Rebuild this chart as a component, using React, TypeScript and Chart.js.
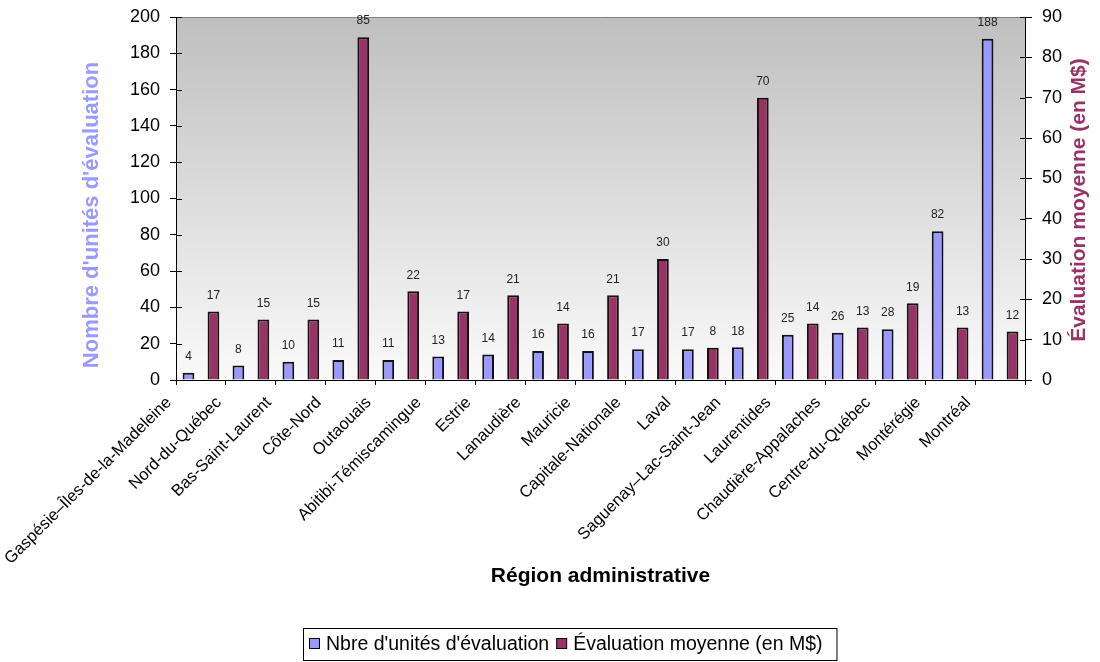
import { useEffect, useRef } from 'react';
import { Chart, registerables } from 'chart.js';

Chart.register(...registerables);

const REGIONS = [
  'Gaspésie–Îles-de-la-Madeleine',
  'Nord-du-Québec',
  'Bas-Saint-Laurent',
  'Côte-Nord',
  'Outaouais',
  'Abitibi-Témiscamingue',
  'Estrie',
  'Lanaudière',
  'Mauricie',
  'Capitale-Nationale',
  'Laval',
  'Saguenay–Lac-Saint-Jean',
  'Laurentides',
  'Chaudière-Appalaches',
  'Centre-du-Québec',
  'Montérégie',
  'Montréal',
];

const UNIT_COUNTS = [4, 8, 10, 11, 11, 13, 14, 16, 16, 17, 17, 18, 25, 26, 28, 82, 188];
const AVG_VALUES = [17, 15, 15, 85, 22, 17, 21, 14, 21, 30, 8, 70, 14, 13, 19, 13, 12];

const SERIES_LABELS = ["Nbre d'unités d'évaluation", 'Évaluation moyenne (en M$)'];
const X_TITLE = 'Région administrative';
const Y_LEFT_TITLE = "Nombre d'unités d'évaluation";
const Y_RIGHT_TITLE = 'Évaluation moyenne (en M$)';

const LEFT_MAX = 200;
const LEFT_STEP = 20;
const RIGHT_MAX = 90;
const RIGHT_STEP = 10;

const BLUE = '#9999FF';
const MAROON = '#993366';
const FONT = '"Liberation Sans", Arial, sans-serif';

const decorPlugin = {
  id: 'decor',
  beforeDraw(chart: any) {
    const { ctx, chartArea: a } = chart;
    ctx.save();
    ctx.fillStyle = '#ffffff';
    ctx.fillRect(0, 0, chart.width, chart.height);
    const g = ctx.createLinearGradient(0, a.top, 0, a.bottom);
    g.addColorStop(0, '#BFBFBF');
    g.addColorStop(1, '#FAFAFA');
    ctx.fillStyle = g;
    ctx.fillRect(a.left, a.top, a.right - a.left, a.bottom - a.top);
    ctx.strokeStyle = '#808080';
    ctx.lineWidth = 1;
    ctx.beginPath();
    ctx.moveTo(a.left, Math.round(a.top) + 0.5);
    ctx.lineTo(a.right, Math.round(a.top) + 0.5);
    ctx.stroke();
    ctx.restore();
  },
  afterDatasetsDraw(chart: any) {
    const { ctx } = chart;
    ctx.save();
    ctx.font = `12px ${FONT}`;
    ctx.fillStyle = '#222';
    ctx.textAlign = 'center';
    ctx.textBaseline = 'middle';
    chart.data.datasets.forEach((ds: any, di: number) => {
      const meta = chart.getDatasetMeta(di);
      meta.data.forEach((el: any, i: number) => {
        ctx.fillText(String(ds.data[i]), el.x, el.y - 16);
      });
    });
    ctx.restore();
  },
  afterDraw(chart: any) {
    const { ctx, chartArea: a } = chart;
    ctx.save();
    // inner halves of the crossing tick marks
    ctx.strokeStyle = '#000';
    ctx.lineWidth = 1;
    const yl = chart.scales.y;
    yl.ticks.forEach((_t: any, i: number) => {
      const py = Math.round(yl.getPixelForTick(i)) + 0.5;
      ctx.beginPath();
      ctx.moveTo(a.left, py);
      ctx.lineTo(a.left + 6, py);
      ctx.stroke();
    });
    const yr = chart.scales.y1;
    yr.ticks.forEach((_t: any, i: number) => {
      const py = Math.round(yr.getPixelForTick(i)) + 0.5;
      ctx.beginPath();
      ctx.moveTo(a.right - 5, py);
      ctx.lineTo(a.right, py);
      ctx.stroke();
    });

    // axis titles
    ctx.font = `bold 21px ${FONT}`;
    ctx.textAlign = 'center';
    ctx.textBaseline = 'middle';
    ctx.fillStyle = '#000';
    ctx.fillText(X_TITLE, (a.left + a.right) / 2, 576);

    ctx.save();
    ctx.font = `bold 22px ${FONT}`;
    ctx.fillStyle = BLUE;
    ctx.translate(92, 215);
    ctx.rotate(-Math.PI / 2);
    ctx.fillText(Y_LEFT_TITLE, 0, 0);
    ctx.restore();

    ctx.save();
    ctx.font = `bold 21px ${FONT}`;
    ctx.fillStyle = MAROON;
    ctx.translate(1079, 200);
    ctx.rotate(-Math.PI / 2);
    ctx.fillText(Y_RIGHT_TITLE, 0, 0);
    ctx.restore();

    // legend
    ctx.font = `19.5px ${FONT}`;
    ctx.textAlign = 'left';
    ctx.textBaseline = 'middle';
    const colors = [BLUE, MAROON];
    const boxLeft = 303;
    const boxTop = 628;
    const boxH = 32;
    const cy = boxTop + boxH / 2;
    let x = boxLeft + 6;
    chart.data.datasets.forEach((ds: any, i: number) => {
      ctx.fillStyle = colors[i];
      ctx.fillRect(x + 0.5, cy - 5.5, 10, 10);
      ctx.strokeStyle = '#000';
      ctx.strokeRect(x + 0.5, cy - 5.5, 10, 10);
      x += 17;
      ctx.fillStyle = '#000';
      ctx.fillText(ds.label, x, cy + 1);
      x += ctx.measureText(ds.label).width + 7;
    });
    const boxRight = x + 7;
    ctx.strokeStyle = '#000';
    ctx.strokeRect(boxLeft + 0.5, boxTop + 0.5, boxRight - boxLeft, boxH);
    ctx.restore();
  },
};

export default function App() {
  const ref = useRef<HTMLCanvasElement>(null);

  useEffect(() => {
    const canvas = ref.current;
    if (!canvas) return;
    const tickFont = { family: FONT, size: 18 };
    const chart = new Chart(canvas, {
      type: 'bar',
      data: {
        labels: REGIONS,
        datasets: [
          {
            label: SERIES_LABELS[0],
            data: UNIT_COUNTS,
            yAxisID: 'y',
            backgroundColor: BLUE,
            borderColor: '#111',
            borderWidth: 2,
            categoryPercentage: 1,
            barPercentage: 0.47,
          },
          {
            label: SERIES_LABELS[1],
            data: AVG_VALUES,
            yAxisID: 'y1',
            backgroundColor: MAROON,
            borderColor: '#111',
            borderWidth: 2,
            categoryPercentage: 1,
            barPercentage: 0.47,
          },
        ],
      },
      options: {
        animation: false,
        responsive: false,
        layout: { padding: { top: 17, left: 0, right: 0, bottom: 0 } },
        plugins: {
          legend: { display: false },
          tooltip: { enabled: false },
        },
        scales: {
          x: {
            ticks: {
              autoSkip: false,
              maxRotation: 45,
              minRotation: 45,
              labelOffset: -32,
              padding: 8,
              color: '#000',
              font: { family: FONT, size: 16.5 },
            },
            grid: { drawOnChartArea: false, tickLength: 5, color: '#000', offset: true },
            border: { color: '#000' },
            afterFit: (s: any) => {
              s.height = 282;
            },
          },
          y: {
            position: 'left',
            min: 0,
            max: LEFT_MAX,
            ticks: { stepSize: LEFT_STEP, padding: 10, color: '#000', font: tickFont },
            grid: { drawOnChartArea: false, tickLength: 6, color: '#000' },
            border: { color: '#000' },
            afterFit: (s: any) => {
              s.width = 176;
              s.paddingTop = 0;
              s.paddingBottom = 0;
            },
          },
          y1: {
            position: 'right',
            min: 0,
            max: RIGHT_MAX,
            ticks: { stepSize: RIGHT_STEP, padding: 10, color: '#000', font: tickFont },
            grid: { drawOnChartArea: false, tickLength: 7, color: '#000' },
            border: { color: '#000' },
            afterFit: (s: any) => {
              s.width = 75;
              s.paddingTop = 0;
              s.paddingBottom = 0;
            },
          },
        },
      },
      plugins: [decorPlugin],
    });
    return () => chart.destroy();
  }, []);

  return (
    <canvas
      ref={ref}
      width={1100}
      height={662}
      style={{ position: 'absolute', left: 0, top: 0, display: 'block' }}
    />
  );
}
